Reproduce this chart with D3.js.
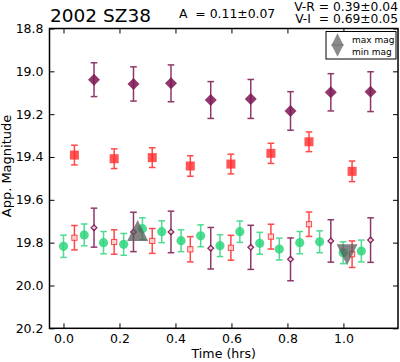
<!DOCTYPE html>
<html>
<head>
<meta charset="utf-8">
<script src="https://cdn.jsdelivr.net/npm/d3@7"></script>
<style>
  body { margin: 0; background: #fff; }
  svg text { font-family: "DejaVu Sans", sans-serif; fill: #000; white-space: pre; }
</style>
</head>
<body>
<svg id="chart" width="400" height="362"></svg>
<script>
// V band (green circles)
var timeV = [0.0, 0.074, 0.143, 0.215, 0.282, 0.351, 0.420, 0.490, 0.559, 0.630, 0.701, 0.771, 0.844, 0.915, 0.999, 1.064];
var magV  = [19.817, 19.764, 19.800, 19.808, 19.735, 19.749, 19.791, 19.768, 19.814, 19.749, 19.803, 19.830, 19.800, 19.796, 19.847, 19.839];
var errV  = [0.052, 0.051, 0.052, 0.051, 0.051, 0.051, 0.051, 0.051, 0.051, 0.050, 0.051, 0.051, 0.052, 0.051, 0.051, 0.051];

// R band (red squares) and R shifted by V-R (open squares)
var timeR = [0.039, 0.181, 0.317, 0.453, 0.598, 0.741, 0.877, 1.031];
var magR  = [19.391, 19.408, 19.403, 19.442, 19.433, 19.383, 19.329, 19.467];
var errR  = [0.046, 0.046, 0.046, 0.048, 0.046, 0.047, 0.046, 0.048];
var magRV = [19.777, 19.797, 19.792, 19.831, 19.824, 19.772, 19.714, 19.854];
var errRV = [0.057, 0.057, 0.058, 0.059, 0.058, 0.058, 0.057, 0.062];

// I band (purple diamonds) and I shifted by V-I (open diamonds)
var timeI = [0.109, 0.250, 0.384, 0.526, 0.669, 0.811, 0.955, 1.097];
var magI  = [19.039, 19.059, 19.056, 19.134, 19.129, 19.185, 19.098, 19.095];
var errI  = [0.079, 0.080, 0.086, 0.086, 0.091, 0.090, 0.087, 0.093];
var magIV = [19.730, 19.750, 19.750, 19.826, 19.822, 19.878, 19.792, 19.788];
var errIV = [0.091, 0.092, 0.097, 0.097, 0.103, 0.100, 0.099, 0.104];

// light curve extremes
var extTime = [0.265, 1.013];
var extMag  = [19.743, 19.857];
var extKind = ["max", "min"];

var xTicks = [0.0, 0.2, 0.4, 0.6, 0.8, 1.0];
var yTicks = [18.8, 19.0, 19.2, 19.4, 19.6, 19.8, 20.0, 20.2];

var titleText = "2002 SZ38";
var ampText = "A  = 0.11\u00b10.07";
var vrText = "V-R = 0.39\u00b10.04";
var viText = "V-I  = 0.69\u00b10.05";

var colV = "#2fd67f", colR = "#ff2a2a", colI = "#7c1552", colExt = "#5a5a5a";

var svg = d3.select("#chart");
var pL = 49.5, pR = 398, pT = 28.5, pB = 328.3;

var x = d3.scaleLinear().domain([-0.05, 1.195]).range([pL, pR]);
var y = d3.scaleLinear().domain([18.8, 20.2]).range([pT, pB]);

// axes, ticks pointing inward
var fmt = d3.format(".1f");
svg.append("g").attr("transform", "translate(0," + pB + ")")
   .call(d3.axisBottom(x).tickValues(xTicks).tickFormat(fmt).tickSize(-5).tickPadding(6))
   .call(styleAxis);
svg.append("g").attr("transform", "translate(0," + pT + ")")
   .call(d3.axisTop(x).tickValues(xTicks).tickFormat("").tickSize(-5))
   .call(styleAxis);
svg.append("g").attr("transform", "translate(" + pL + ",0)")
   .call(d3.axisLeft(y).tickValues(yTicks).tickFormat(fmt).tickSize(-5).tickPadding(6))
   .call(styleAxis);
svg.append("g").attr("transform", "translate(" + pR + ",0)")
   .call(d3.axisRight(y).tickValues(yTicks).tickFormat("").tickSize(-5))
   .call(styleAxis);

function styleAxis(g) {
  g.select(".domain").remove();
  g.selectAll(".tick line").attr("stroke", "#000").attr("stroke-width", 1);
  g.selectAll(".tick text").attr("font-size", "12.5px").attr("font-family", "DejaVu Sans, sans-serif");
}

svg.append("rect").attr("x", pL).attr("y", pT)
   .attr("width", pR - pL).attr("height", pB - pT)
   .attr("fill", "none").attr("stroke", "#000").attr("stroke-width", 1.5);

var plot = svg.append("g");

function errorBars(times, mags, errs, color, op) {
  var g = plot.append("g").attr("stroke", color).attr("stroke-width", 1.5).attr("opacity", op);
  times.forEach(function (t, i) {
    var cx = x(t), y1 = y(mags[i] - errs[i]), y2 = y(mags[i] + errs[i]);
    g.append("line").attr("x1", cx).attr("x2", cx).attr("y1", y1).attr("y2", y2);
    g.append("line").attr("x1", cx - 3.3).attr("x2", cx + 3.3).attr("y1", y1).attr("y2", y1);
    g.append("line").attr("x1", cx - 3.3).attr("x2", cx + 3.3).attr("y1", y2).attr("y2", y2);
  });
}

// upper band: filled I diamonds and R squares
errorBars(timeI, magI, errI, colI, 0.85);
plot.append("g").selectAll("path").data(timeI).enter().append("path")
    .attr("d", d3.symbol().type(d3.symbolSquare).size(72))
    .attr("transform", function (d, i) { return "translate(" + x(d) + "," + y(magI[i]) + ") rotate(45)"; })
    .attr("fill", colI).attr("opacity", 0.85);

errorBars(timeR, magR, errR, colR, 0.85);
plot.append("g").selectAll("rect").data(timeR).enter().append("rect")
    .attr("x", function (d) { return x(d) - 4.5; })
    .attr("y", function (d, i) { return y(magR[i]) - 4.5; })
    .attr("width", 9).attr("height", 9)
    .attr("fill", colR).attr("opacity", 0.8);

// lower band: V circles, shifted R and I
errorBars(timeV, magV, errV, colV, 0.85);
plot.append("g").selectAll("circle").data(timeV).enter().append("circle")
    .attr("cx", function (d) { return x(d); })
    .attr("cy", function (d, i) { return y(magV[i]); })
    .attr("r", 4.6).attr("fill", colV).attr("opacity", 0.85);

errorBars(timeR, magRV, errRV, colR, 0.85);
plot.append("g").selectAll("rect").data(timeR).enter().append("rect")
    .attr("x", function (d) { return x(d) - 2.6; })
    .attr("y", function (d, i) { return y(magRV[i]) - 2.6; })
    .attr("width", 5.2).attr("height", 5.2)
    .attr("fill", "#ffd6d6").attr("stroke", colR).attr("stroke-width", 1).attr("opacity", 0.85);

errorBars(timeI, magIV, errIV, colI, 0.85);
plot.append("g").selectAll("path").data(timeI).enter().append("path")
    .attr("d", d3.symbol().type(d3.symbolSquare).size(16))
    .attr("transform", function (d, i) { return "translate(" + x(d) + "," + y(magIV[i]) + ") rotate(45)"; })
    .attr("fill", "#f3dbe8").attr("stroke", colI).attr("stroke-width", 1.3).attr("opacity", 0.9);

// extremes as triangles
function tri(kind, s) {
  // s = half width
  return kind === "max"
    ? "M0," + (-s) + "L" + s + "," + s + "L" + (-s) + "," + s + "Z"
    : "M0," + s + "L" + s + "," + (-s) + "L" + (-s) + "," + (-s) + "Z";
}
plot.append("g").selectAll("path").data(extTime).enter().append("path")
    .attr("d", function (d, i) { return tri(extKind[i], 10.5); })
    .attr("transform", function (d, i) { return "translate(" + x(d) + "," + y(extMag[i]) + ")"; })
    .attr("fill", colExt).attr("opacity", 0.75);

// legend
var lg = svg.append("g").attr("transform", "translate(326,31.5)");
lg.append("rect").attr("width", 70).attr("height", 27.5)
  .attr("fill", "#fff").attr("stroke", "#000").attr("stroke-width", 1);
["max", "min"].forEach(function (k, i) {
  lg.append("path").attr("d", tri(k, 6.3))
    .attr("transform", "translate(11.5," + (i === 0 ? 8 : 19) + ")")
    .attr("fill", "#777").attr("opacity", 0.85);
  lg.append("text").attr("x", 26).attr("y", i === 0 ? 11.5 : 23)
    .attr("font-size", "9px").text(k + " mag");
});

// labels
svg.append("text").attr("x", 50).attr("y", 22).attr("font-size", "18.5px").text(titleText);
svg.append("text").attr("x", 179).attr("y", 17.5).attr("font-size", "12.4px").text(ampText);
svg.append("text").attr("x", 398).attr("y", 10.5).attr("text-anchor", "end").attr("font-size", "12.3px").text(vrText);
svg.append("text").attr("x", 398).attr("y", 23).attr("text-anchor", "end").attr("font-size", "12.3px").text(viText);

svg.append("text").attr("x", (pL + pR) / 2).attr("y", 358)
   .attr("text-anchor", "middle").attr("font-size", "12.6px").text("Time (hrs)");
svg.append("text").attr("transform", "translate(11,166) rotate(-90)")
   .attr("text-anchor", "middle").attr("font-size", "13px").text("App. Magnitude");
</script>
</body>
</html>
